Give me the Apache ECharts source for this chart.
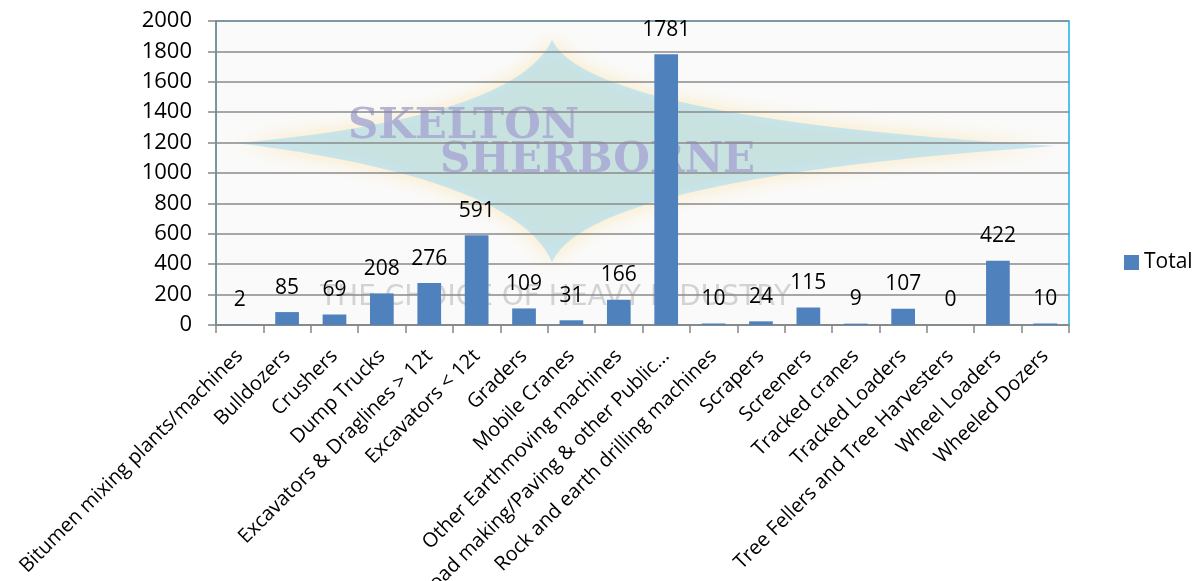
<!DOCTYPE html>
<html>
<head>
<meta charset="utf-8">
<script src="https://cdn.jsdelivr.net/npm/echarts@6/dist/echarts.min.js"></script>
<style>
  html, body { margin: 0; padding: 0; background: #fff; }
  #chart { width: 1198px; height: 581px; }
</style>
</head>
<body>
<div id="chart"></div>
<script>
// categories and counts
var categories = [
  'Bitumen mixing plants/machines',
  'Bulldozers',
  'Crushers',
  'Dump Trucks',
  'Excavators & Draglines > 12t',
  'Excavators < 12t',
  'Graders',
  'Mobile Cranes',
  'Other Earthmoving machines',
  'Road making/Paving & other Public Works machines',
  'Rock and earth drilling machines',
  'Scrapers',
  'Screeners',
  'Tracked cranes',
  'Tracked Loaders',
  'Tree Fellers and Tree Harvesters',
  'Wheel Loaders',
  'Wheeled Dozers'
];
var totals = [2, 85, 69, 208, 276, 591, 109, 31, 166, 1781, 10, 24, 115, 9, 107, 0, 422, 10];
var yTicks = [0, 200, 400, 600, 800, 1000, 1200, 1400, 1600, 1800, 2000];

// star outline for the logo watermark: four tips joined by concave curves
function starPoints() {
  var tips = [[552, 40], [1055, 146], [552, 262], [237, 143]];
  var ctrl = [[590, 118], [590, 178], [515, 178], [515, 118]];
  var pts = [];
  for (var i = 0; i < 4; i++) {
    var a = tips[i], b = tips[(i + 1) % 4], c = ctrl[i];
    for (var t = 0; t < 1; t += 0.04) {
      var u = 1 - t;
      pts.push([u * u * a[0] + 2 * u * t * c[0] + t * t * b[0],
                u * u * a[1] + 2 * u * t * c[1] + t * t * b[1]]);
    }
  }
  return pts;
}

var chart = echarts.init(document.getElementById('chart'));

var option = {
  animation: false,
  textStyle: { fontFamily: 'Open Sans' },
  grid: {
    left: 216,
    right: 129,
    top: 21,
    bottom: 256,
    outerBoundsMode: 'none',
    containLabel: false,
    show: true,
    backgroundColor: '#fafafa',
    borderColor: '#1ab0e8',
    borderWidth: 1.5,
    z: -2
  },
  graphic: [
    {
      type: 'polygon',
      z: -1,
      silent: true,
      shape: { points: starPoints() },
      style: {
        fill: 'rgba(178,222,240,0.7)',
        shadowBlur: 20,
        shadowColor: 'rgba(255,210,100,0.6)'
      }
    },
    {
      type: 'text',
      z: -1,
      silent: true,
      left: 348,
      top: 106,
      style: {
        text: 'SKELTON',
        font: 'bold 42px "DejaVu Serif"',
        fill: 'rgba(168,168,210,0.85)'
      }
    },
    {
      type: 'text',
      z: -1,
      silent: true,
      left: 440,
      top: 140,
      style: {
        text: 'SHERBORNE',
        font: 'bold 42px "DejaVu Serif"',
        fill: 'rgba(168,168,210,0.85)'
      }
    },
    {
      type: 'text',
      z: -1,
      silent: true,
      left: 320,
      top: 284,
      style: {
        text: 'THE CHOICE OF HEAVY INDUSTRY',
        font: '28px "DejaVu Sans"',
        fill: 'rgba(185,185,185,0.6)'
      }
    }
  ],
  legend: {
    left: 1119,
    top: 247,
    orient: 'vertical',
    itemWidth: 15,
    itemHeight: 15,
    icon: 'rect',
    itemGap: 6,
    textStyle: { fontSize: 21, color: '#000', fontFamily: 'Open Sans' },
    data: ['Total']
  },
  xAxis: {
    type: 'category',
    data: categories,
    boundaryGap: true,
    axisLine: { lineStyle: { color: '#868686', width: 1.5 } },
    axisTick: { show: true, length: 8, lineStyle: { color: '#868686', width: 1.5 } },
    axisLabel: {
      rotate: 45,
      interval: 0,
      margin: 28,
      fontSize: 20,
      color: '#000',
      width: 352,
      overflow: 'truncate',
      ellipsis: '...'
    }
  },
  yAxis: {
    type: 'value',
    min: yTicks[0],
    max: yTicks[yTicks.length - 1],
    interval: 200,
    axisLine: { show: true, lineStyle: { color: '#868686', width: 1.5 } },
    axisTick: { show: true, length: 8, lineStyle: { color: '#868686', width: 1.5 } },
    axisLabel: {
      fontSize: 22,
      color: '#000',
      margin: 24,
      formatter: function (v) { return String(v); }
    },
    splitLine: { lineStyle: { color: '#8a8a8a', width: 1.5 } }
  },
  series: [
    {
      name: 'Total',
      type: 'bar',
      data: totals,
      barWidth: '50%',
      itemStyle: { color: '#4f81bd' },
      label: {
        show: true,
        position: 'top',
        distance: 14,
        fontSize: 21,
        color: '#000'
      }
    }
  ]
};

chart.setOption(option);
</script>
</body>
</html>
